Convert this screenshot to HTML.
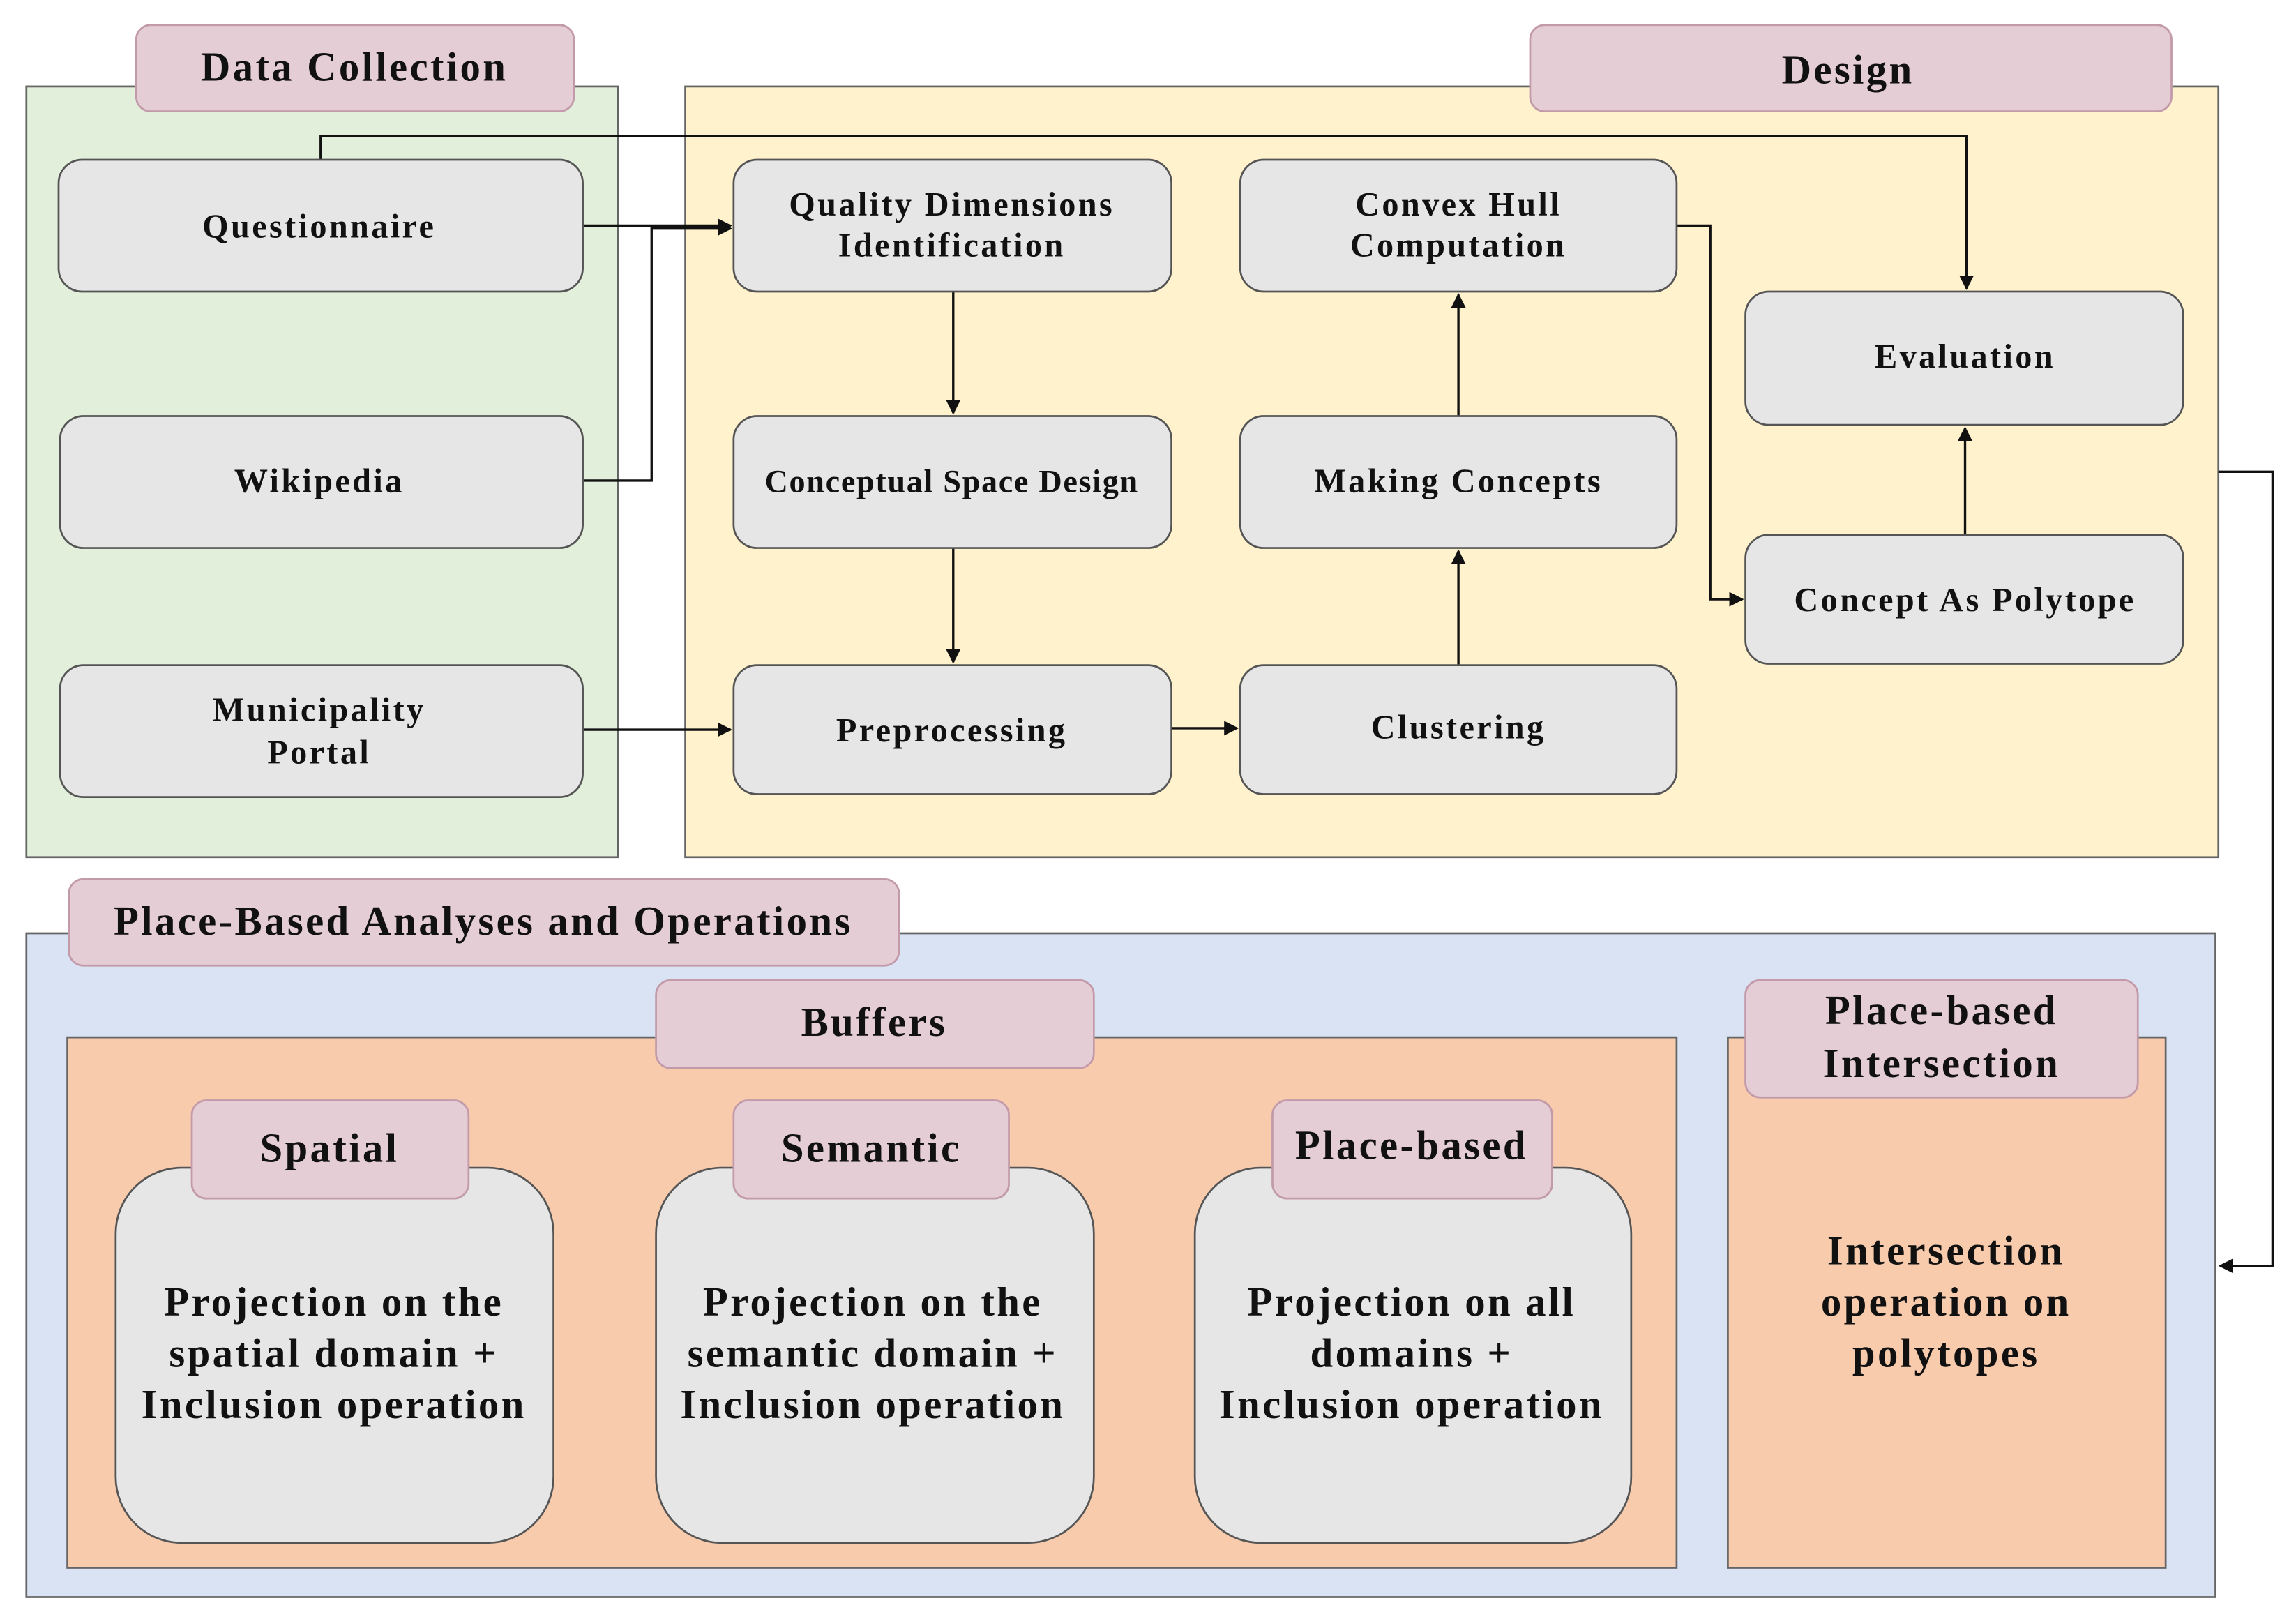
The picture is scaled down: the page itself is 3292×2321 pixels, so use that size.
<!DOCTYPE html>
<html><head><meta charset="utf-8"><style>
html,body{margin:0;padding:0;background:#fff;}
svg{display:block;}
text{font-family:"Liberation Serif",serif;font-weight:bold;fill:#111;text-anchor:middle;letter-spacing:1.6px;}
.n{fill:#e6e6e6;stroke:#555;stroke-width:1.3;}
.l{fill:#e5cdd5;stroke:#c29aa9;stroke-width:1.3;}
.c{fill:none;stroke:#111;stroke-width:1.6;}
</style></head><body>
<svg width="3292" height="2321" viewBox="0 0 1568 1105" preserveAspectRatio="none" xmlns="http://www.w3.org/2000/svg">
<defs><marker id="a" markerWidth="10" markerHeight="10" refX="9" refY="5" orient="auto" markerUnits="userSpaceOnUse"><path d="M0,0 L10,5 L0,10 z" fill="#111"/></marker></defs>
<rect x="18" y="59" width="404" height="526" fill="#e2efda" stroke="#666" stroke-width="1.3"/>
<rect x="468" y="59" width="1047" height="526" fill="#fff2cc" stroke="#666" stroke-width="1.3"/>
<rect x="18" y="637" width="1495" height="453" fill="#dae3f3" stroke="#666" stroke-width="1.3"/>
<rect x="46" y="708" width="1099" height="362" fill="#f8cbad" stroke="#666" stroke-width="1.3"/>
<rect x="1180" y="708" width="299" height="362" fill="#f8cbad" stroke="#666" stroke-width="1.3"/>
<rect class="l" x="93" y="17" width="299" height="59" rx="10"/><text x="242" y="55" font-size="28">Data Collection</text>
<rect class="l" x="1045" y="17" width="438" height="59" rx="10"/><text x="1262" y="57" font-size="28">Design</text>
<rect class="l" x="47" y="600" width="567" height="59" rx="10"/><text x="330" y="638" font-size="28">Place-Based Analyses and Operations</text>
<rect class="l" x="448" y="669" width="299" height="60" rx="10"/><text x="597" y="707" font-size="28">Buffers</text>
<rect class="l" x="1192" y="669" width="268" height="80" rx="10"/><text x="1326" y="699" font-size="28">Place-based</text><text x="1326" y="735" font-size="28">Intersection</text>
<path class="c" d="M219,109 V93 H1343 V197" marker-end="url(#a)"/>
<path class="c" d="M398,154 H499" marker-end="url(#a)"/>
<path class="c" d="M398,328 H445 V156 H499" marker-end="url(#a)"/>
<path class="c" d="M398,498 H499" marker-end="url(#a)"/>
<path class="c" d="M651,199 V282" marker-end="url(#a)"/>
<path class="c" d="M651,374 V452" marker-end="url(#a)"/>
<path class="c" d="M800,497 H845" marker-end="url(#a)"/>
<path class="c" d="M996,454 V376" marker-end="url(#a)"/>
<path class="c" d="M996,284 V201" marker-end="url(#a)"/>
<path class="c" d="M1145,154 H1168 V409 H1190" marker-end="url(#a)"/>
<path class="c" d="M1342,365 V292" marker-end="url(#a)"/>
<path class="c" d="M1515,322 H1552 V864 H1516" marker-end="url(#a)"/>
<rect class="n" x="40" y="109" width="358" height="90" rx="16"/><text x="218" y="162" font-size="23">Questionnaire</text>
<rect class="n" x="41" y="284" width="357" height="90" rx="16"/><text x="218" y="336" font-size="23">Wikipedia</text>
<rect class="n" x="41" y="454" width="357" height="90" rx="16"/><text x="218" y="492" font-size="23">Municipality</text><text x="218" y="521" font-size="23">Portal</text>
<rect class="n" x="501" y="109" width="299" height="90" rx="16"/><text x="650" y="147" font-size="23">Quality Dimensions</text><text x="650" y="175" font-size="23">Identification</text>
<rect class="n" x="501" y="284" width="299" height="90" rx="16"/><text x="650" y="336" font-size="22" style="letter-spacing:0.8px">Conceptual Space Design</text>
<rect class="n" x="501" y="454" width="299" height="88" rx="16"/><text x="650" y="506" font-size="23">Preprocessing</text>
<rect class="n" x="847" y="109" width="298" height="90" rx="16"/><text x="996" y="147" font-size="23">Convex Hull</text><text x="996" y="175" font-size="23">Computation</text>
<rect class="n" x="847" y="284" width="298" height="90" rx="16"/><text x="996" y="336" font-size="23">Making Concepts</text>
<rect class="n" x="847" y="454" width="298" height="88" rx="16"/><text x="996" y="504" font-size="23">Clustering</text>
<rect class="n" x="1192" y="199" width="299" height="91" rx="16"/><text x="1342" y="251" font-size="23">Evaluation</text>
<rect class="n" x="1192" y="365" width="299" height="88" rx="16"/><text x="1342" y="417" font-size="23">Concept As Polytope</text>
<rect class="n" x="79" y="797" width="299" height="256" rx="45"/>
<rect class="n" x="448" y="797" width="299" height="256" rx="45"/>
<rect class="n" x="816" y="797" width="298" height="256" rx="45"/>
<rect class="l" x="131" y="751" width="189" height="67" rx="10"/><text x="225" y="793" font-size="28">Spatial</text>
<rect class="l" x="501" y="751" width="188" height="67" rx="10"/><text x="595" y="793" font-size="28">Semantic</text>
<rect class="l" x="869" y="751" width="191" height="67" rx="10"/><text x="964" y="791" font-size="28">Place-based</text>
<text x="228" y="898" font-size="28">Projection on the</text><text x="228" y="933" font-size="28">spatial domain +</text><text x="228" y="968" font-size="28">Inclusion operation</text>
<text x="596" y="898" font-size="28">Projection on the</text><text x="596" y="933" font-size="28">semantic domain +</text><text x="596" y="968" font-size="28">Inclusion operation</text>
<text x="964" y="898" font-size="28">Projection on all</text><text x="964" y="933" font-size="28">domains +</text><text x="964" y="968" font-size="28">Inclusion operation</text>
<text x="1329" y="863" font-size="28">Intersection</text><text x="1329" y="898" font-size="28">operation on</text><text x="1329" y="933" font-size="28">polytopes</text>
</svg>
</body></html>
